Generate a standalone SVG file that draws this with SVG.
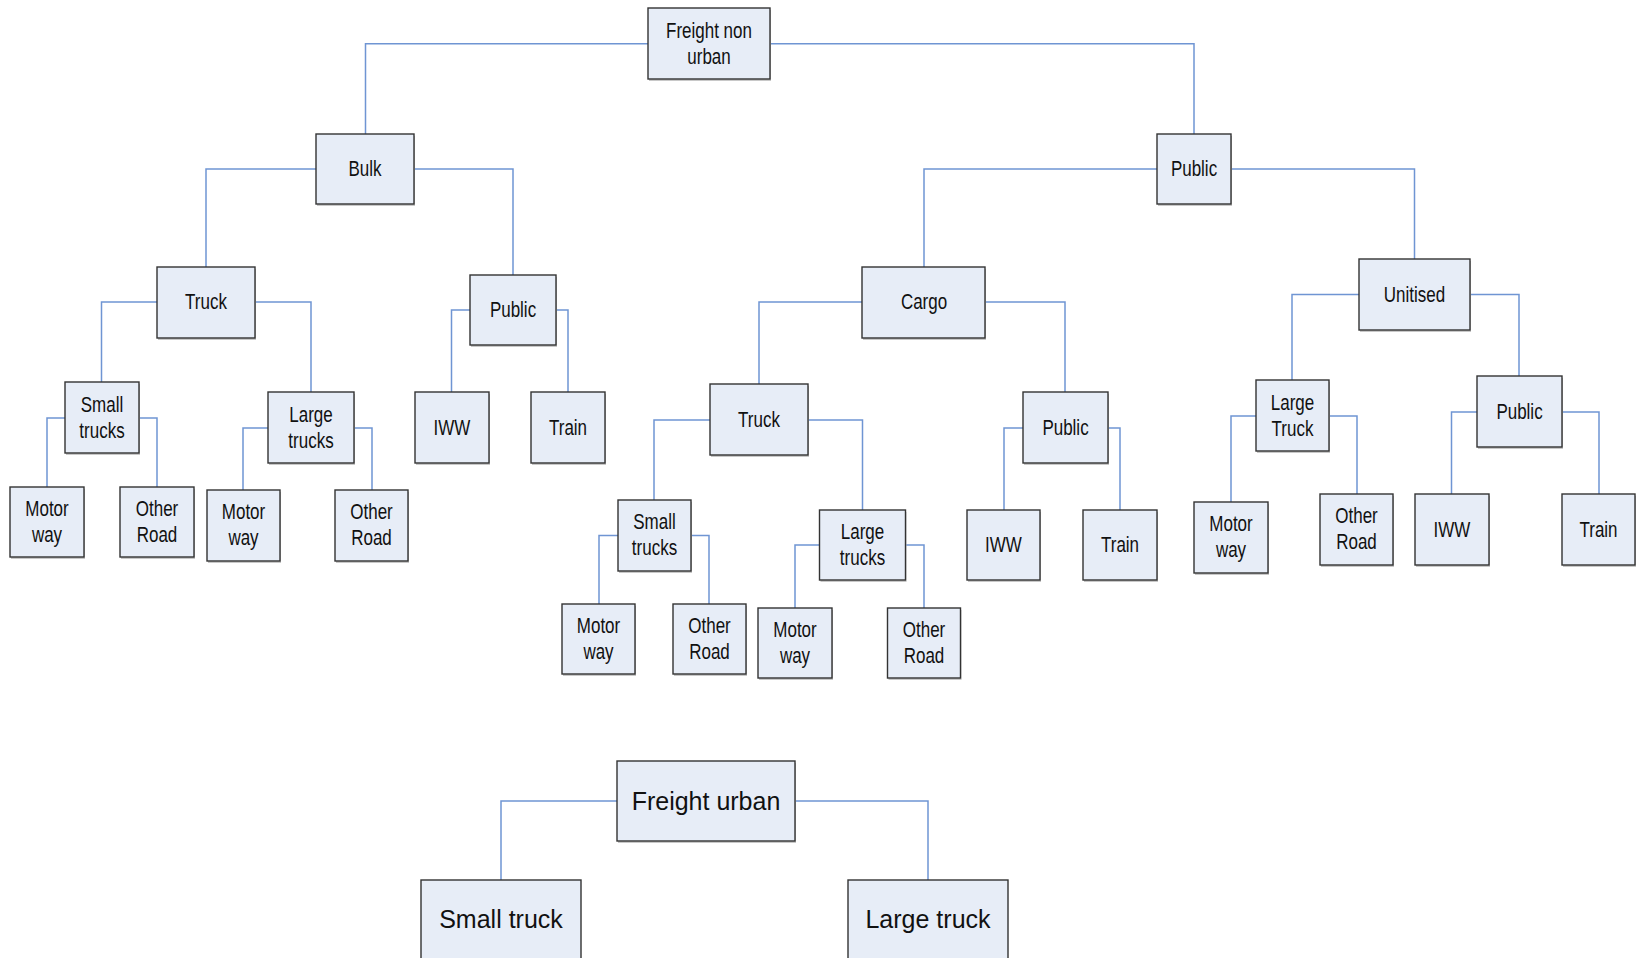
<svg xmlns="http://www.w3.org/2000/svg" width="1641" height="958" viewBox="0 0 1641 958">
  <style>
    .box { fill: #E7EDF7; stroke: #333333; stroke-width: 1.4; }
    .shadow { fill: #C8C8C8; }
    .lbl { font-family: "Liberation Sans", Arial, sans-serif; font-size: 21.5px; fill: #111111; text-anchor: middle; }
    .big { font-family: "Liberation Sans", Arial, sans-serif; font-size: 25px; fill: #111111; text-anchor: middle; }
    .wire { fill: none; stroke: #6F95D3; stroke-width: 1.5; }
  </style>

  <rect width="1641" height="958" fill="#FFFFFF"/>

  <!-- elbow connectors: parent side -> child centre x -> child top -->
  <g id="connectors" class="wire">
    <path d="M648,43.7 H365.5 V134"/>
    <path d="M770,43.7 H1194 V134"/>
    <path d="M316,169 H206 V267"/>
    <path d="M414,169 H513 V275"/>
    <path d="M1157,169 H924 V267"/>
    <path d="M1231,169 H1414.5 V259"/>
    <path d="M157,302 H101.5 V382"/>
    <path d="M255,302 H311 V392"/>
    <path d="M470,310 H451.5 V392"/>
    <path d="M556,310 H568 V392"/>
    <path d="M862,302 H759 V384"/>
    <path d="M985,302 H1065 V392"/>
    <path d="M1359,294.5 H1292 V380"/>
    <path d="M1470,294.5 H1519 V376"/>
    <path d="M65,418 H47 V487"/>
    <path d="M139,418 H157 V487"/>
    <path d="M268,428 H243 V490"/>
    <path d="M354,428 H372 V490"/>
    <path d="M710,420 H654 V500"/>
    <path d="M808,420 H862.5 V510"/>
    <path d="M1023,428 H1004 V510"/>
    <path d="M1108,428 H1120 V510"/>
    <path d="M618,535.5 H599 V604"/>
    <path d="M691,535.5 H709 V604"/>
    <path d="M819.5,545 H795 V608"/>
    <path d="M905.5,545 H924 V608"/>
    <path d="M1256,416 H1231 V502"/>
    <path d="M1329,416 H1357 V494"/>
    <path d="M1477,412 H1451.5 V494"/>
    <path d="M1562,412 H1599 V494"/>
    <path d="M617,801 H501 V880"/>
    <path d="M795,801 H928 V880"/>
  </g>

  <!-- non-urban freight tree -->
  <g id="freight-non-urban">
    <rect class="shadow" x="649" y="10" width="122" height="71"/>
    <rect class="box" x="648" y="8" width="122" height="71"/>
    <text class="lbl" transform="translate(709 0) scale(0.79 1)"><tspan x="0" y="37.7">Freight non</tspan><tspan x="0" y="63.7">urban</tspan></text>
  </g>
  <g id="bulk">
    <rect class="shadow" x="317" y="136" width="98" height="70"/>
    <rect class="box" x="316" y="134" width="98" height="70"/>
    <text class="lbl" transform="translate(365 0) scale(0.79 1)" x="0" y="176.5">Bulk</text>
  </g>
  <g id="public-main">
    <rect class="shadow" x="1158" y="136" width="74" height="70"/>
    <rect class="box" x="1157" y="134" width="74" height="70"/>
    <text class="lbl" transform="translate(1194 0) scale(0.79 1)" x="0" y="176.5">Public</text>
  </g>
  <g id="bulk-truck">
    <rect class="shadow" x="158" y="269" width="98" height="71"/>
    <rect class="box" x="157" y="267" width="98" height="71"/>
    <text class="lbl" transform="translate(206 0) scale(0.79 1)" x="0" y="309.5">Truck</text>
  </g>
  <g id="bulk-public">
    <rect class="shadow" x="471" y="277" width="86" height="70"/>
    <rect class="box" x="470" y="275" width="86" height="70"/>
    <text class="lbl" transform="translate(513 0) scale(0.79 1)" x="0" y="317.5">Public</text>
  </g>
  <g id="cargo">
    <rect class="shadow" x="863" y="269" width="123" height="71"/>
    <rect class="box" x="862" y="267" width="123" height="71"/>
    <text class="lbl" transform="translate(924 0) scale(0.79 1)" x="0" y="309.5">Cargo</text>
  </g>
  <g id="unitised">
    <rect class="shadow" x="1360" y="261" width="111" height="71"/>
    <rect class="box" x="1359" y="259" width="111" height="71"/>
    <text class="lbl" transform="translate(1414.5 0) scale(0.79 1)" x="0" y="302">Unitised</text>
  </g>

  <g id="bulk-small-trucks">
    <rect class="shadow" x="66" y="384" width="74" height="71"/>
    <rect class="box" x="65" y="382" width="74" height="71"/>
    <text class="lbl" transform="translate(102 0) scale(0.79 1)"><tspan x="0" y="412">Small</tspan><tspan x="0" y="438">trucks</tspan></text>
  </g>
  <g id="bulk-large-trucks">
    <rect class="shadow" x="269" y="394" width="86" height="71"/>
    <rect class="box" x="268" y="392" width="86" height="71"/>
    <text class="lbl" transform="translate(311 0) scale(0.79 1)"><tspan x="0" y="422">Large</tspan><tspan x="0" y="448">trucks</tspan></text>
  </g>
  <g id="bulk-iww">
    <rect class="shadow" x="416" y="394" width="74" height="71"/>
    <rect class="box" x="415" y="392" width="74" height="71"/>
    <text class="lbl" transform="translate(452 0) scale(0.79 1)" x="0" y="435.5">IWW</text>
  </g>
  <g id="bulk-train">
    <rect class="shadow" x="532" y="394" width="74" height="71"/>
    <rect class="box" x="531" y="392" width="74" height="71"/>
    <text class="lbl" transform="translate(568 0) scale(0.79 1)" x="0" y="435.5">Train</text>
  </g>
  <g id="bulk-small-motorway">
    <rect class="shadow" x="11" y="489" width="74" height="70"/>
    <rect class="box" x="10" y="487" width="74" height="70"/>
    <text class="lbl" transform="translate(47 0) scale(0.79 1)"><tspan x="0" y="516">Motor</tspan><tspan x="0" y="542">way</tspan></text>
  </g>
  <g id="bulk-small-other">
    <rect class="shadow" x="121" y="489" width="74" height="70"/>
    <rect class="box" x="120" y="487" width="74" height="70"/>
    <text class="lbl" transform="translate(157 0) scale(0.79 1)"><tspan x="0" y="516">Other</tspan><tspan x="0" y="542">Road</tspan></text>
  </g>
  <g id="bulk-large-motorway">
    <rect class="shadow" x="208" y="492" width="73" height="71"/>
    <rect class="box" x="207" y="490" width="73" height="71"/>
    <text class="lbl" transform="translate(243.5 0) scale(0.79 1)"><tspan x="0" y="519.5">Motor</tspan><tspan x="0" y="545.5">way</tspan></text>
  </g>
  <g id="bulk-large-other">
    <rect class="shadow" x="336" y="492" width="73" height="71"/>
    <rect class="box" x="335" y="490" width="73" height="71"/>
    <text class="lbl" transform="translate(371.5 0) scale(0.79 1)"><tspan x="0" y="519.5">Other</tspan><tspan x="0" y="545.5">Road</tspan></text>
  </g>

  <g id="cargo-truck">
    <rect class="shadow" x="711" y="386" width="98" height="71"/>
    <rect class="box" x="710" y="384" width="98" height="71"/>
    <text class="lbl" transform="translate(759 0) scale(0.79 1)" x="0" y="427.5">Truck</text>
  </g>
  <g id="cargo-public">
    <rect class="shadow" x="1024" y="394" width="85" height="71"/>
    <rect class="box" x="1023" y="392" width="85" height="71"/>
    <text class="lbl" transform="translate(1065.5 0) scale(0.79 1)" x="0" y="435.5">Public</text>
  </g>
  <g id="cargo-small-trucks">
    <rect class="shadow" x="619" y="502" width="73" height="71"/>
    <rect class="box" x="618" y="500" width="73" height="71"/>
    <text class="lbl" transform="translate(654.5 0) scale(0.79 1)"><tspan x="0" y="529.5">Small</tspan><tspan x="0" y="555.5">trucks</tspan></text>
  </g>
  <g id="cargo-large-trucks">
    <rect class="shadow" x="820.5" y="512" width="86" height="70"/>
    <rect class="box" x="819.5" y="510" width="86" height="70"/>
    <text class="lbl" transform="translate(862.5 0) scale(0.79 1)"><tspan x="0" y="539">Large</tspan><tspan x="0" y="565">trucks</tspan></text>
  </g>
  <g id="cargo-small-motorway">
    <rect class="shadow" x="563" y="606" width="73" height="70"/>
    <rect class="box" x="562" y="604" width="73" height="70"/>
    <text class="lbl" transform="translate(598.5 0) scale(0.79 1)"><tspan x="0" y="633">Motor</tspan><tspan x="0" y="659">way</tspan></text>
  </g>
  <g id="cargo-small-other">
    <rect class="shadow" x="674" y="606" width="73" height="70"/>
    <rect class="box" x="673" y="604" width="73" height="70"/>
    <text class="lbl" transform="translate(709.5 0) scale(0.79 1)"><tspan x="0" y="633">Other</tspan><tspan x="0" y="659">Road</tspan></text>
  </g>
  <g id="cargo-large-motorway">
    <rect class="shadow" x="759" y="610" width="74" height="70"/>
    <rect class="box" x="758" y="608" width="74" height="70"/>
    <text class="lbl" transform="translate(795 0) scale(0.79 1)"><tspan x="0" y="637">Motor</tspan><tspan x="0" y="663">way</tspan></text>
  </g>
  <g id="cargo-large-other">
    <rect class="shadow" x="888.5" y="610" width="73" height="70"/>
    <rect class="box" x="887.5" y="608" width="73" height="70"/>
    <text class="lbl" transform="translate(924 0) scale(0.79 1)"><tspan x="0" y="637">Other</tspan><tspan x="0" y="663">Road</tspan></text>
  </g>
  <g id="cargo-iww">
    <rect class="shadow" x="968" y="512" width="73" height="70"/>
    <rect class="box" x="967" y="510" width="73" height="70"/>
    <text class="lbl" transform="translate(1003.5 0) scale(0.79 1)" x="0" y="552.5">IWW</text>
  </g>
  <g id="cargo-train">
    <rect class="shadow" x="1084" y="512" width="74" height="70"/>
    <rect class="box" x="1083" y="510" width="74" height="70"/>
    <text class="lbl" transform="translate(1120 0) scale(0.79 1)" x="0" y="552.5">Train</text>
  </g>

  <g id="unitised-large-truck">
    <rect class="shadow" x="1257" y="382" width="73" height="71"/>
    <rect class="box" x="1256" y="380" width="73" height="71"/>
    <text class="lbl" transform="translate(1292.5 0) scale(0.79 1)"><tspan x="0" y="410">Large</tspan><tspan x="0" y="436">Truck</tspan></text>
  </g>
  <g id="unitised-public">
    <rect class="shadow" x="1478" y="378" width="85" height="71"/>
    <rect class="box" x="1477" y="376" width="85" height="71"/>
    <text class="lbl" transform="translate(1519.5 0) scale(0.79 1)" x="0" y="419.5">Public</text>
  </g>
  <g id="unitised-motorway">
    <rect class="shadow" x="1195" y="504" width="74" height="71"/>
    <rect class="box" x="1194" y="502" width="74" height="71"/>
    <text class="lbl" transform="translate(1231 0) scale(0.79 1)"><tspan x="0" y="531.5">Motor</tspan><tspan x="0" y="557.5">way</tspan></text>
  </g>
  <g id="unitised-other">
    <rect class="shadow" x="1321" y="496" width="73" height="71"/>
    <rect class="box" x="1320" y="494" width="73" height="71"/>
    <text class="lbl" transform="translate(1356.5 0) scale(0.79 1)"><tspan x="0" y="523.5">Other</tspan><tspan x="0" y="549.5">Road</tspan></text>
  </g>
  <g id="unitised-iww">
    <rect class="shadow" x="1416" y="496" width="74" height="71"/>
    <rect class="box" x="1415" y="494" width="74" height="71"/>
    <text class="lbl" transform="translate(1452 0) scale(0.79 1)" x="0" y="537.5">IWW</text>
  </g>
  <g id="unitised-train">
    <rect class="shadow" x="1563" y="496" width="73" height="71"/>
    <rect class="box" x="1562" y="494" width="73" height="71"/>
    <text class="lbl" transform="translate(1598.5 0) scale(0.79 1)" x="0" y="537.5">Train</text>
  </g>

  <!-- urban freight tree -->
  <g id="freight-urban">
    <rect class="shadow" x="618" y="763" width="178" height="80"/>
    <rect class="box" x="617" y="761" width="178" height="80"/>
    <text class="big" x="706" y="810">Freight urban</text>
  </g>
  <g id="urban-small-truck">
    <rect class="box" x="421" y="880" width="160" height="90"/>
    <text class="big" x="501" y="928">Small truck</text>
  </g>
  <g id="urban-large-truck">
    <rect class="box" x="848" y="880" width="160" height="90"/>
    <text class="big" x="928" y="928">Large truck</text>
  </g>
</svg>
